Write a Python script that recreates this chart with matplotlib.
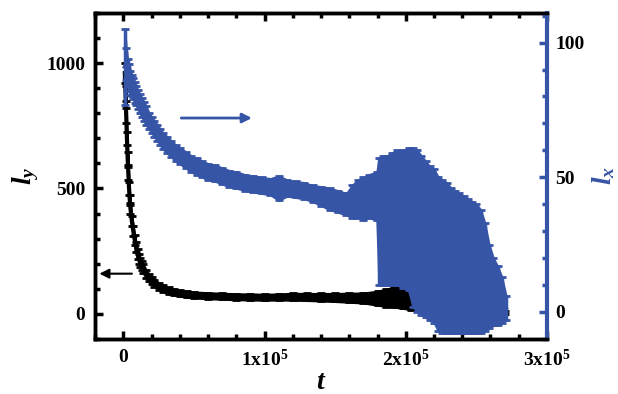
import numpy as np
import matplotlib
matplotlib.use("Agg")
import matplotlib.pyplot as plt
from matplotlib.ticker import MultipleLocator, FuncFormatter

plt.rcParams['font.family'] = ['Liberation Serif', 'DejaVu Serif']
plt.rcParams['font.weight'] = 'bold'
plt.rcParams['mathtext.fontset'] = 'custom'
plt.rcParams['mathtext.rm'] = 'Liberation Serif:bold'
plt.rcParams['mathtext.it'] = 'Liberation Serif:italic:bold'
plt.rcParams['mathtext.bf'] = 'Liberation Serif:bold'

BLUE = '#3755a6'

# l_y (left axis), t in units of 1e3
ly_t = [1, 1.5, 2, 2.5, 3, 3.5, 4, 4.5, 5, 6, 7, 8, 9, 10, 11, 12, 13, 14, 16, 18,
        20, 22, 25, 28, 32, 36, 40, 45, 50, 60, 70, 80, 90, 100, 110, 120, 130, 140,
        150, 160, 170, 180, 186, 192, 198, 204, 210, 216, 222, 230, 240, 250, 260, 270]
ly_val = [960, 880, 790, 700, 620, 560, 500, 455, 420, 370, 330, 295, 265, 240, 220, 205,
          192, 180, 160, 145, 133, 122, 110, 100, 92, 86, 82, 78, 75, 72, 70, 68, 67, 66,
          67, 68, 67, 66, 65, 64, 63, 62, 64, 66, 64, 55, 45, 35, 25, 18, 12, 9, 7, 5]
ly_err = [40, 30, 30, 25, 25, 25, 25, 20, 20, 20, 20, 20, 20, 20, 20, 18, 18, 18, 16, 15,
          15, 14, 14, 13, 13, 12, 12, 12, 12, 12, 12, 12, 12, 12, 12, 14, 14, 15, 16, 18,
          20, 28, 35, 40, 42, 40, 35, 30, 25, 18, 12, 9, 7, 5]

# l_x (right axis), t in units of 1e3
lx_t = [1, 2, 3, 4, 5, 6, 7, 8, 9, 10, 11.5, 13, 14.5, 16, 18, 20, 22, 24, 26, 28, 31,
        34, 37, 40, 44, 48, 52, 56, 60, 65, 70, 75, 80, 86, 92, 98, 104, 110, 116, 122,
        128, 134, 140, 146, 152, 158, 162, 166, 170, 174, 179.5,
        181, 184, 187, 190, 194, 198, 202, 205, 208, 211, 214, 217, 220, 223, 226, 229,
        232, 235, 238, 241, 244, 247, 250, 253, 256, 259, 262, 265, 268, 271]
lx_val = [91, 92, 89, 87, 85, 84, 83, 81.5, 80.5, 79, 77.5, 76, 74.5, 73, 71, 69.5, 68,
          66.5, 65, 63.5, 62, 60.5, 59, 58, 56.5, 55, 54, 53, 52, 51.5, 50.5, 49.5, 49,
          48, 47.5, 47, 46.5, 46, 46, 45.5, 45, 44, 43, 42, 41, 40, 41, 42, 42, 43, 43,
          33.5, 34, 34, 34.5, 35, 34.5, 34.5, 31.5, 30, 28.5, 27, 25.5, 24.5, 21.5, 20.5,
          20, 19, 18.5, 18, 17.5, 17, 16.5, 16, 15, 13, 9.5, 7.5, 6, 4.5, 1.5]
lx_err = [14, 6, 5, 5, 4.5, 4, 4, 4, 3.5, 3.5, 3.5, 3.5, 3.5, 3.5, 3, 3, 3, 3, 3, 3, 3,
          3, 3, 3, 3, 3, 3, 3, 3, 3, 3, 3, 3, 3, 3, 3, 3,
          4.5, 3, 3, 3, 3, 3.5, 4, 4, 4, 6, 7, 8, 8, 9,
          23.5, 24, 24, 24.5, 25, 25.5, 26.5, 29.5, 30, 29.5, 29, 28.5, 28.5, 28.5, 28.5,
          28, 27, 26.5, 26, 25.5, 25, 24.5, 24, 23, 20, 15.5, 12.5, 11, 8.5, 4.5]

t_ticks = [0, 1e5, 2e5, 3e5]

ly_t = np.array(ly_t) * 1e3
lx_t = np.array(lx_t) * 1e3
ly_val = np.array(ly_val)
ly_err = np.array(ly_err)
lx_val = np.array(lx_val)
lx_err = np.array(lx_err)

fig = plt.figure(figsize=(6.18, 3.94), dpi=100)
ax = fig.add_axes([0.154, 0.14, 0.731, 0.827])
ax2 = ax.twinx()

ax.fill_between(ly_t, ly_val - ly_err, ly_val + ly_err, color='black', lw=1.5,
                edgecolor='black', zorder=2)
ax.errorbar(ly_t, ly_val, yerr=ly_err, fmt='-', color='black', lw=3,
            elinewidth=2, capsize=3, capthick=2, zorder=2)
ax2.fill_between(lx_t, lx_val - lx_err, lx_val + lx_err, color=BLUE, lw=1.5,
                 edgecolor=BLUE, zorder=3)
ax2.errorbar(lx_t, lx_val, yerr=lx_err, fmt='-', color=BLUE, lw=3,
             elinewidth=2.5, capsize=3, capthick=2, zorder=3)

ax.set_xlim(-2e4, 3e5)
ax.set_ylim(-100, 1200)
ax2.set_ylim(-10, 111)

ax.set_xticks(t_ticks)
ax.xaxis.set_minor_locator(MultipleLocator(2e4))
ax.yaxis.set_major_locator(MultipleLocator(500))
ax.yaxis.set_minor_locator(MultipleLocator(100))
ax2.yaxis.set_major_locator(MultipleLocator(50))
ax2.yaxis.set_minor_locator(MultipleLocator(10))


def fmt_t(v, pos):
    if v == 0:
        return '0'
    return r'%dx10$^{5}$' % round(v / 1e5)


ax.xaxis.set_major_formatter(FuncFormatter(fmt_t))

ax.tick_params(axis='both', which='both', direction='in', top=True, right=False,
               width=2.5, labelsize=14, color='black', pad=7)
ax.tick_params(which='major', length=6)
ax.tick_params(which='minor', length=3.5)
ax2.tick_params(axis='y', which='both', direction='in', width=2.5, labelsize=14,
                color=BLUE, labelcolor='black', pad=6)
ax2.tick_params(which='major', length=6)
ax2.tick_params(which='minor', length=3.5)

for s in ['left', 'top', 'bottom']:
    ax.spines[s].set_linewidth(2.5)
    ax2.spines[s].set_linewidth(2.5)
ax2.spines['right'].set_linewidth(3)
ax2.spines['right'].set_color(BLUE)
ax.spines['right'].set_visible(False)

for lab in ax.get_xticklabels() + ax.get_yticklabels() + ax2.get_yticklabels():
    lab.set_fontweight('bold')

ax.set_xlabel(r'$\mathit{t}$', fontsize=20, labelpad=0)
ax.set_ylabel(r'$\mathit{l_y}$', fontsize=20, labelpad=4)
ax2.set_ylabel(r'$\mathit{l_x}$', fontsize=20, color=BLUE, labelpad=4)

# direction arrows
ax.annotate('', xy=(-1.9e4, 160), xytext=(8e3, 160),
            arrowprops=dict(arrowstyle='-|>', color='black', lw=1.5,
                            mutation_scale=14))
ax2.annotate('', xy=(9.3e4, 72), xytext=(3.9e4, 72),
             arrowprops=dict(arrowstyle='-|>', color=BLUE, lw=2,
                             mutation_scale=14))

fig.savefig('out.png', dpi=100)
